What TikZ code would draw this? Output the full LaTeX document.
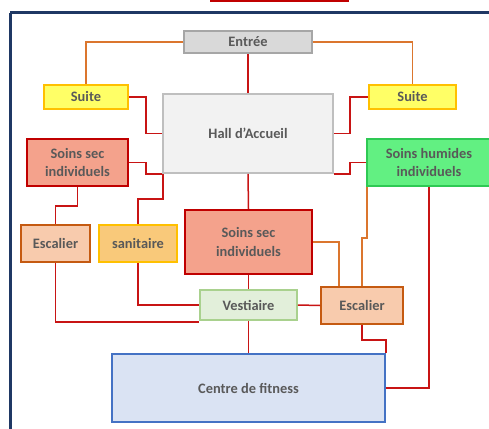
\documentclass[tikz,border=0pt]{standalone}
\usepackage{fontspec}
\setmainfont{Carlito}
\definecolor{txt}{HTML}{595959}
\definecolor{rline}{HTML}{C81414}
\definecolor{oline}{HTML}{DB762E}
\definecolor{navy}{HTML}{1F3864}
\definecolor{greyF}{HTML}{D9D9D9}\definecolor{greyD}{HTML}{A6A6A6}
\definecolor{yelF}{HTML}{FFFF66}\definecolor{yelD}{HTML}{FFC000}
\definecolor{hallF}{HTML}{F2F2F2}\definecolor{hallD}{HTML}{BFBFBF}
\definecolor{redF}{HTML}{F4A28C}\definecolor{redD}{HTML}{C00000}
\definecolor{grnF}{HTML}{62F082}\definecolor{grnD}{HTML}{2EC954}
\definecolor{stF}{HTML}{F8CBAD}\definecolor{stD}{HTML}{C55A11}
\definecolor{sanF}{HTML}{F9C97A}
\definecolor{vestF}{HTML}{E2EFDA}\definecolor{vestD}{HTML}{A9D18E}
\definecolor{fitF}{HTML}{DAE3F3}\definecolor{fitD}{HTML}{4472C4}
\begin{document}
\begin{tikzpicture}[x=1pt,y=-1pt,
  box/.style={draw, line width=1.6pt, inner sep=0pt, align=center, text=txt,
    font=\fontsize{14.4}{18.5}\selectfont\bfseries},
  greybox/.style={box, fill=greyF, draw=greyD},
  yellowbox/.style={box, fill=yelF, draw=yelD},
  hallbox/.style={box, fill=hallF, draw=hallD},
  redbox/.style={box, fill=redF, draw=redD, line width=2pt},
  greenbox/.style={box, fill=grnF, draw=grnD},
  stairbox/.style={box, fill=stF, draw=stD},
  sanbox/.style={box, fill=sanF, draw=yelD},
  vestbox/.style={box, fill=vestF, draw=vestD},
  fitbox/.style={box, fill=fitF, draw=fitD},
  rl/.style={draw=rline, line width=1.5pt},
  ol/.style={draw=oline, line width=1.5pt}]
\useasboundingbox (0,0) rectangle (489,428);
\clip (0,0) rectangle (489,428);
% frame and top box
\draw[navy, line width=3pt] (10,13) -- (495,13);
\draw[navy, line width=3pt] (10,13) -- (10,435);
\draw[redD, line width=2pt, fill=white] (211,-20) rectangle (348,1.5);
% nodes
\node[greybox, minimum width=128, minimum height=22] (entree) at (248,42) {Entrée};
\node[yellowbox, minimum width=84, minimum height=24] (suiteL) at (86,97) {Suite};
\node[yellowbox, minimum width=87, minimum height=24] (suiteR) at (412.5,97) {Suite};
\node[hallbox, minimum width=170, minimum height=79] (hall) at (248,133.5) {Hall d’Accueil};
\node[redbox, minimum width=101, minimum height=47] (soinsL) at (77.5,162.5) {Soins sec\\individuels};
\node[greenbox, minimum width=124, minimum height=47] (hum) at (429,162.5) {Soins humides\\individuels};
\node[stairbox, minimum width=69, minimum height=37] (escL) at (55.5,243.5) {Escalier};
\node[sanbox, minimum width=78, minimum height=37] (sanit) at (138,243.5) {sanitaire};
\node[redbox, minimum width=127, minimum height=64] (soinsC) at (248.5,242) {Soins sec\\individuels};
\node[vestbox, minimum width=97, minimum height=30] (vest) at (248.5,305) {Vestiaire};
\node[stairbox, minimum width=82, minimum height=37] (escR) at (362,305.5) {Escalier};
\node[fitbox, minimum width=273, minimum height=68] (centre) at (248.5,388) {Centre de fitness};
% connectors
\draw[ol] (entree.west) -| (suiteL.north);
\draw[ol] (entree.east) -| (suiteR.north);
\draw[rl] (entree.south) -- (hall.north);
\draw[rl] (suiteL.east) -- ++(17,0) |- (hall.west);
\draw[rl] (suiteR.west) -- ++(-18,0) |- (hall.east);
\draw[rl] (soinsL.east) -- ++(17,0) |- (hall.south west);
\draw[rl] (hum.west) -- ++(-16,0) |- (hall.south east);
\draw[rl] (sanit.north) -- ++(0,-25) -| ([xshift=1pt]hall.south west);
\draw[rl] (soinsL.south) -- ++(0,19) -| (escL.north);
\draw[rl] (hall.south) -- (soinsC.north);
\draw[rl] (soinsC.south) -- (vest.north);
\draw[rl] (vest.south) -- (centre.north);
\draw[rl] (sanit.south) |- (vest.west);
\draw[rl] (escL.south) |- ([yshift=-1pt]vest.south west);
\draw[rl] (vest.east) -- (escR.west);
\draw[ol] (soinsC.east) -| ([xshift=19pt]escR.north west);
\draw[ol] ([xshift=1pt]hum.south west) -- ++(0,51) -| (escR.north);
\draw[rl] (escR.south) -- ++(0,15) -| (centre.north east);
\draw[rl] (hum.south) |- (centre.east);
\end{tikzpicture}
\end{document}
